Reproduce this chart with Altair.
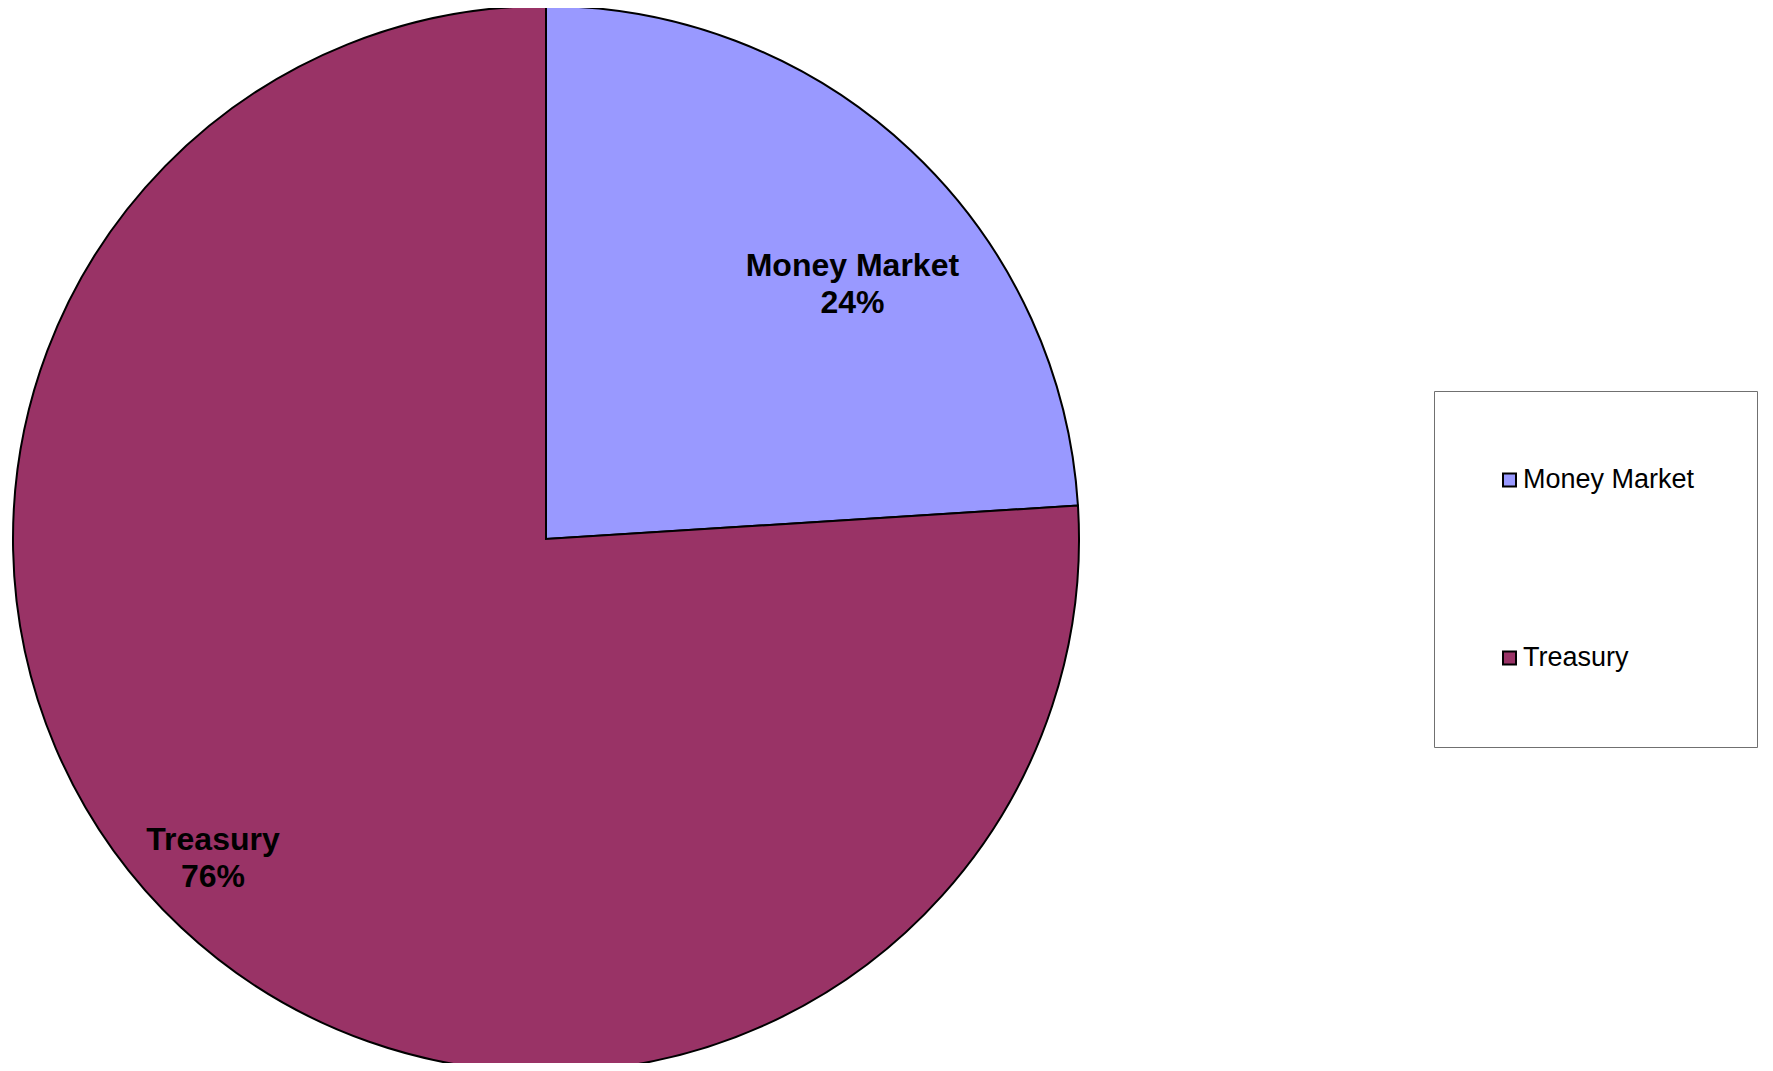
import altair as alt
import pandas as pd

categories = ["Money Market", "Treasury"]
values = [24, 76]
colors = ["#9999FF", "#993366"]

df = pd.DataFrame({"category": categories, "value": values})

CX, CY, R = 538, 531, 533
FONT = "Liberation Sans"

theta_scale = alt.Scale(domain=[0, 100])
color_enc = alt.Color(
    "category:N",
    scale=alt.Scale(domain=categories, range=colors),
    legend=alt.Legend(
        title=None,
        orient="none",
        legendX=1426,
        legendY=383,
        padding=62,
        strokeColor="#707070",
        symbolType="square",
        symbolSize=169,
        symbolStrokeColor="black",
        symbolStrokeWidth=2,
        symbolOpacity=1,
        labelFont=FONT,
        labelFontSize=27,
        labelColor="black",
        labelOffset=0,
        labelLimit=400,
        clipHeight=54,
        rowPadding=124,
    ),
)

pie = alt.Chart(df).mark_arc(radius=R, stroke="black", strokeWidth=2).encode(
    theta=alt.Theta("value:Q", stack=True, scale=theta_scale),
    color=color_enc,
    order=alt.Order("category:N", sort="ascending"),
    x=alt.value(CX),
    y=alt.value(CY),
)


def label_layer(cat, r, dx, dy):
    return (
        alt.Chart(df)
        .transform_stack(
            stack="value", groupby=[], as_=["v0", "v1"],
            sort=[alt.SortField("category", order="ascending")],
        )
        .transform_calculate(
            mid="(datum.v0 + datum.v1) / 2",
            label="datum.category + '\\n' + datum.value + '%'",
        )
        .transform_filter(alt.datum.category == cat)
        .mark_text(
            radius=r, dx=dx, dy=dy, font=FONT, fontSize=32, fontWeight="bold",
            color="black", lineBreak="\n", lineHeight=37,
            align="center", baseline="middle",
        )
        .encode(
            theta=alt.Theta("mid:Q", stack=None, scale=theta_scale),
            text="label:N",
            x=alt.value(CX),
            y=alt.value(CY),
        )
    )


chart = (
    alt.layer(pie, label_layer("Money Market", 395, 36, 15), label_layer("Treasury", 466, -14, -39))
    .properties(width=1757, height=1055, autosize=alt.AutoSizeParams(type="none"), padding=0)
    .configure_view(strokeWidth=0)
    .configure_legend(strokeWidth=1)
)

chart.save("out.html", embed_options={"renderer": "svg", "actions": False})
